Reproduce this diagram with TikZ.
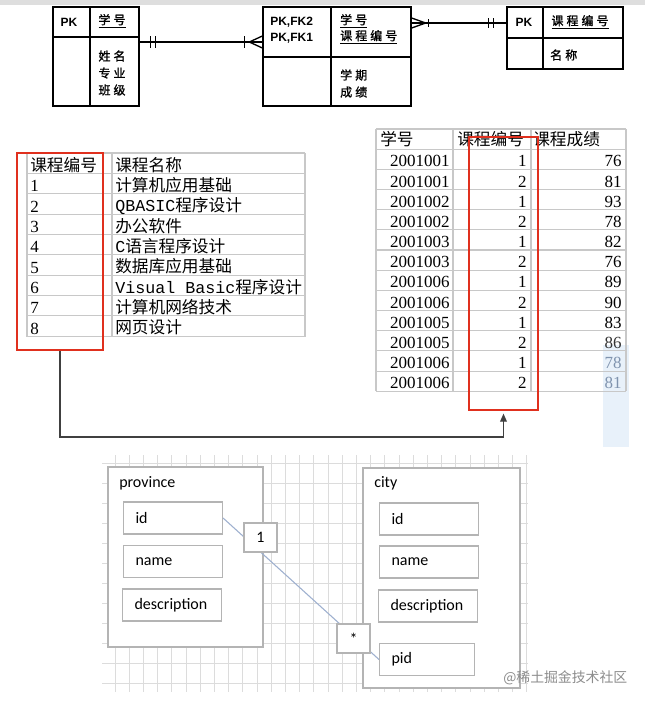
\documentclass[tikz,border=0pt]{standalone}
\usepackage{fontspec}
\newfontfamily\cjk{Noto Sans CJK SC}
\newfontfamily\cjkwide[LetterSpace=25, FakeBold=1.2]{Noto Sans CJK SC}
\newfontfamily\mono{Liberation Mono}
\newfontfamily\digits{Liberation Serif}
\newfontfamily\headsans{Liberation Sans}
\newfontfamily\calibri{Carlito}
\usetikzlibrary{
    arrows.meta,
    positioning,
    calc
}
\definecolor{keyred}{HTML}{E0301E}
\definecolor{tblgray}{HTML}{C8C8C8}
\definecolor{gridgray}{HTML}{DCDCDC}
\definecolor{boxgray}{HTML}{B4B4B4}
\definecolor{linkblue}{HTML}{9EB0CF}
\definecolor{selblue}{HTML}{E8F1FA}
\definecolor{fadeblue}{HTML}{7F93AE}

\begin{document}
\begin{tikzpicture}[
    x=0.75pt,
    y=-0.75pt,
    entity/.style={draw, line width=1pt, inner sep=0pt},
    ertext/.style={font=\fontsize{9pt}{12.75pt}\cjkwide, inner sep=0pt},
    pktext/.style={font=\fontsize{9pt}{12pt}\headsans\bfseries, inner sep=0pt},
    cell/.style={font=\fontsize{12.5pt}{14pt}\cjk, inner sep=0pt, anchor=base west},
    numcell/.style={font=\fontsize{12.75pt}{14pt}\digits, inner sep=0pt, anchor=base east},
    keybox/.style={draw=keyred, line width=1.4pt, inner sep=0pt},
    tbl/.style={draw=tblgray, line width=0.8pt},
    gridline/.style={draw=gridgray, line width=0.6pt},
    conn/.style={draw=black!75, line width=0.9pt},
    umlbox/.style={draw=boxgray, fill=white, line width=0.8pt, inner sep=0pt},
    field/.style={
        draw=boxgray,
        fill=white,
        line width=0.8pt,
        minimum height=24pt,
        text width=56.25pt,
        inner xsep=9pt,
        align=left,
        anchor=west,
        font=\fontsize{12pt}{14pt}\calibri
    },
    mult/.style={
        draw=boxgray,
        fill=white,
        line width=0.8pt,
        minimum width=24.75pt,
        minimum height=21.75pt,
        inner sep=0pt,
        font=\fontsize{12pt}{14pt}\calibri
    }
]

    \useasboundingbox (0,0) rectangle (645,704);
    \fill[white] (0,0) rectangle (645,704);
    \fill[black!13] (0,0) rectangle (645,5);

    % ER diagram at the top
    \node[entity, minimum width=64.5pt, minimum height=74.25pt]
        (stu) at (96,56.5) {};
    \draw[line width=1pt] (90,7) -- (90,106);
    \draw[line width=1pt] (53,37) -- (139,37);
    \node[pktext] (stu-pk) at (69,22) {PK};
    \node[ertext] (stu-key) at (112,21) {\underline{学号}};
    \node[ertext, align=center] (stu-attr) at (112,73)
        {姓名\\专业\\班级};

    \node[entity, minimum width=111pt, minimum height=74.25pt]
        (sc) at (337,56.5) {};
    \draw[line width=1pt] (331,7) -- (331,106);
    \draw[line width=1pt] (263,57) -- (411,57);
    \node[pktext, align=left, anchor=west] (sc-pk) at (270,30)
        {PK,FK2\\PK,FK1};
    \node[ertext, anchor=west] (sc-key1) at (340,21) {\underline{学号}};
    \node[ertext, anchor=west] (sc-key2) at (340,37) {\underline{课程编号}};
    \node[ertext, align=left, anchor=west] (sc-attr) at (340,83.5)
        {学期\\成绩};

    \node[entity, minimum width=87pt, minimum height=46.5pt]
        (crs) at (565,38) {};
    \draw[line width=1pt] (543,7) -- (543,69);
    \draw[line width=1pt] (507,38) -- (623,38);
    \node[pktext] (crs-pk) at (524,22) {PK};
    \node[ertext] (crs-key) at (580,22) {\underline{课程编号}};
    \node[ertext, anchor=west] (crs-attr) at (550,55) {名称};

    % relationship lines with crow's feet
    \coordinate (stuR) at ($(stu.east)+(0,-14.5)$);
    \coordinate (scL) at ($(sc.west)+(0,-14.5)$);
    \draw[line width=1pt] (stuR) -- (scL);
    \draw[line width=1pt] ($(stuR)+(11,-6)$) -- ++(0,12);
    \draw[line width=1pt] ($(stuR)+(16,-6)$) -- ++(0,12);
    \draw[line width=1pt] ($(scL)+(-18,-6)$) -- ++(0,12);
    \draw[line width=1pt] ($(scL)+(0,-6)$) -- ($(scL)+(-13,0)$)
        -- ($(scL)+(0,6)$);

    \coordinate (scR) at ($(sc.east)+(0,-33.5)$);
    \coordinate (crsL) at ($(crs.west)+(0,-15)$);
    \draw[line width=1pt] (scR) -- (crsL);
    \draw[line width=1pt] ($(scR)+(0,-5)$) -- ($(scR)+(14,0)$)
        -- ($(scR)+(0,5)$);
    \draw[line width=1pt] ($(scR)+(17,-4)$) -- ++(0,8);
    \draw[line width=1pt] ($(crsL)+(-18,-5)$) -- ++(0,10);
    \draw[line width=1pt] ($(crsL)+(-13,-5)$) -- ++(0,10);

    % course table (left)
    \foreach \k in {0,...,9}
        \draw[tbl] (27,153+20.35*\k) -- (305,153+20.35*\k);
    \foreach \xx in {27,112,305}
        \draw[tbl] (\xx,153) -- (\xx,336.5);
    \node[cell] (lhead-1) at (30,171) {课程编号};
    \node[cell] (lhead-2) at (115,171) {课程名称};
    \foreach \num/\name [count=\k] in {
        1/计算机应用基础,
        2/{{\mono QBASIC}程序设计},
        3/办公软件,
        4/{{\mono C}语言程序设计},
        5/数据库应用基础,
        6/{{\mono Visual Basic}程序设计},
        7/计算机网络技术,
        8/网页设计}
    {
        \node[cell, font=\fontsize{12.75pt}{14pt}\digits] (lnum-\k)
            at (30,171.5+20.35*\k) {\num};
        \node[cell] (lname-\k) at (115,171+20.35*\k) {\name};
    }

    % score table (right)
    \fill[selblue] (603,345) rectangle (629,447);
    \foreach \k in {0,...,13}
        \draw[tbl] (376,129+20.17*\k) -- (626,129+20.17*\k);
    \foreach \xx in {376,453,531,626}
        \draw[tbl] (\xx,129) -- (\xx,391.2);
    \node[cell] (rhead-1) at (380,145.5) {学号};
    \node[cell] (rhead-2) at (457,145.5) {课程编号};
    \node[cell] (rhead-3) at (533,145.5) {课程成绩};
    \foreach \sid/\cid/\grade/\gcol [count=\k] in {
        2001001/1/76/black,
        2001001/2/81/black,
        2001002/1/93/black,
        2001002/2/78/black,
        2001003/1/82/black,
        2001003/2/76/black,
        2001006/1/89/black,
        2001006/2/90/black,
        2001005/1/83/black,
        2001005/2/86/black!80,
        2001006/1/78/fadeblue,
        2001006/2/81/fadeblue}
    {
        \node[numcell] (sid-\k) at (450,146.8+20.17*\k) {\sid};
        \node[numcell] (cid-\k) at (527,146.8+20.17*\k) {\cid};
        \node[numcell, text=\gcol] (grade-\k)
            at (622,146.8+20.17*\k) {\grade};
    }

    % key columns and their link
    \node[keybox, minimum width=64.5pt, minimum height=147.75pt]
        (keyL) at (60,251.5) {};
    \node[keybox, minimum width=51.75pt, minimum height=204.75pt]
        (keyR) at (503.5,273.5) {};
    \draw[conn, -{Triangle[length=6pt, width=5pt]}, shorten >=2pt]
        (keyL.south) -- ++(0,86) -| (keyR.south);

    % class diagram on a grid
    \foreach \i in {0,...,29}
        \draw[gridline] (115+14.2*\i,455) -- (115+14.2*\i,692);
    \foreach \j in {0,...,11}
        \draw[gridline] (102,463+20*\j) -- (528,463+20*\j);

    \node[umlbox, minimum width=116.25pt, minimum height=135pt]
        (province) at (185.5,557) {};
    \node[anchor=west, inner sep=0pt, font=\fontsize{12pt}{14pt}\calibri]
        (province-title) at (119,483) {province};
    \node[field] (p-id) at (123,518) {id};
    \node[field] (p-name) at (123,561.5) {name};
    \node[field] (p-desc) at (122,605) {description};

    \node[umlbox, minimum width=117.75pt, minimum height=165pt]
        (city) at (441.5,578) {};
    \node[anchor=west, inner sep=0pt, font=\fontsize{12pt}{14pt}\calibri]
        (city-title) at (374,483) {city};
    \node[field] (c-id) at (379,519) {id};
    \node[field] (c-name) at (379,562) {name};
    \node[field] (c-desc) at (378,606) {description};
    \node[field, text width=53.25pt] (c-pid) at (379,659.5) {pid};

    \draw[draw=linkblue, line width=0.8pt] (p-id.east) -- (c-pid.west);
    \node[mult] (one) at (260.5,537.5) {1};
    \node[mult] (many) at (353.5,638.5) {*};

    \node[anchor=west, inner sep=0pt, text=black!45,
        font=\fontsize{10.4pt}{12pt}\cjk]
        (mark) at (503,678) {@稀土掘金技术社区};

\end{tikzpicture}
\end{document}
